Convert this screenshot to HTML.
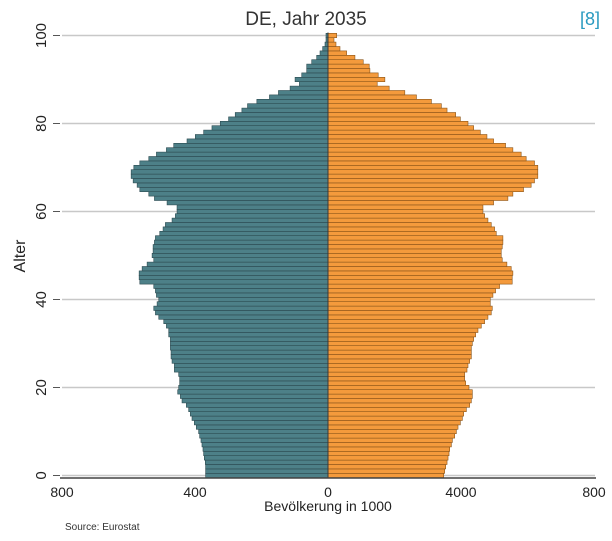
<!DOCTYPE html>
<html><head><meta charset="utf-8">
<style>
html,body{margin:0;padding:0;background:#fff;width:612px;height:541px;overflow:hidden}
svg{display:block;font-family:"Liberation Sans",sans-serif}
</style></head>
<body>
<svg id="chart" width="612" height="541" viewBox="0 0 612 541">
  <text x="306" y="25" text-anchor="middle" font-size="19" fill="#333">DE, Jahr 2035</text>
  <text x="590" y="25" text-anchor="middle" font-size="18" fill="#2a9ac0">[8]</text>
  <g id="grid"></g>
  <g id="bars"></g>
  <g id="axes"></g>
  <text x="328" y="511" text-anchor="middle" font-size="14" fill="#222">Bevölkerung in 1000</text>
  <text transform="translate(25,256) rotate(-90)" text-anchor="middle" font-size="16" fill="#222">Alter</text>
  <text x="65" y="530" font-size="10" fill="#333">Source: Eurostat</text>
</svg>
<script>
// ages 0..100
const males = [368,368,368,369,372,374,376,379,382,386,389,396,402,409,414,419,426,439,444,452,449,446,446,449,462,462,469,472,472,474,474,474,479,479,486,494,509,519,524,514,509,516,519,524,566,568,568,559,544,524,529,526,526,522,519,506,496,489,469,459,454,454,484,522,539,566,574,586,592,592,584,566,539,516,486,464,424,399,374,349,324,299,279,259,242,214,176,149,114,86,99,79,64,64,49,34,24,16,9,6,6];
const females = [348,351,354,358,361,364,366,371,374,381,386,391,398,404,408,416,426,431,434,434,424,414,411,411,418,421,426,431,431,431,434,438,444,451,461,471,481,491,494,488,488,496,504,516,554,554,556,551,538,524,521,521,524,526,526,506,501,491,481,471,466,466,498,541,556,588,611,621,631,631,631,621,596,581,556,534,498,478,458,438,421,398,384,358,341,311,266,231,184,148,171,151,126,124,106,81,56,36,24,18,26];
const yTicks = [0,20,40,60,80,100];
const xTickVals = [-800,-400,0,400,800];
const xTickLabels = ["800","400","0","4000","800"];

const NS = "http://www.w3.org/2000/svg";
const x0 = 328, pxPerUnit = 266/800;
const xs = v => x0 + v*pxPerUnit;
const ys = a => 475.5 - a*4.4;
const bh = 4.4;
function mk(tag, attrs, parent){const e=document.createElementNS(NS,tag);for(const k in attrs)e.setAttribute(k,attrs[k]);parent.appendChild(e);return e;}
const grid=document.getElementById('grid'), bars=document.getElementById('bars'), axes=document.getElementById('axes');

yTicks.forEach(t=>{
  const l=mk('line',{x1:62,x2:595,y1:ys(t),y2:ys(t),stroke:'#c8c8c8','stroke-width':1.5},grid);
  
  
  const tk=mk('line',{x1:53,x2:60,y1:ys(t),y2:ys(t),stroke:'#555','stroke-width':1},axes);
  
  
  const tx=mk('text',{transform:`translate(46,${ys(t)}) rotate(-90)`,'text-anchor':'middle','font-size':15,fill:'#222'},axes);
  tx.textContent=t;
  
  
});

males.forEach((v,a)=>{
  const r=mk('rect',{x:xs(-v),y:ys(a)-bh/2,width:xs(0)-xs(-v),height:bh,fill:'#4d8088',stroke:'#2c4a50','stroke-width':0.6},bars);
  
  
});
females.forEach((v,a)=>{
  const r=mk('rect',{x:xs(0),y:ys(a)-bh/2,width:xs(v)-xs(0),height:bh,fill:'#f49a3c',stroke:'#8a5418','stroke-width':0.6},bars);
  
  
});
const c=mk('line',{x1:x0,x2:x0,y1:ys(100)-3,y2:478,stroke:'#3a3a3a','stroke-width':1},bars);



const base=mk('line',{x1:60,x2:596,y1:478,y2:478,stroke:'#444','stroke-width':1.5},axes);


xTickVals.forEach((v,i)=>{
  const tx=mk('text',{x:xs(v),y:497,'text-anchor':'middle','font-size':14,fill:'#222'},axes);
  tx.textContent=xTickLabels[i];
  
  
});
</script>
</body></html>
